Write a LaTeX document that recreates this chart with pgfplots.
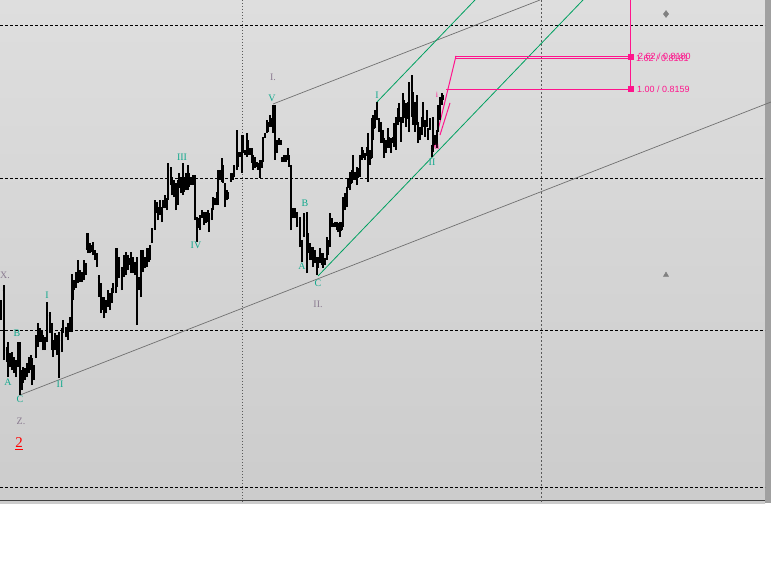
\documentclass[border=0pt]{standalone}
\usepackage{pgfplots}
\pgfplotsset{compat=1.18}
\usepackage{pgfplotstable}
\usepackage{fontspec}
\setmainfont{Liberation Serif}
\newfontfamily\sansf{Liberation Sans}
\definecolor{wgreen}{RGB}{16,168,140}
\definecolor{lgreen}{RGB}{0,160,96}
\definecolor{mag}{RGB}{255,20,140}
\definecolor{gpurp}{RGB}{138,122,144}
\definecolor{tline}{RGB}{112,112,112}
\definecolor{bgtop}{RGB}{222,222,222}
\definecolor{bgbot}{RGB}{204,204,204}
\definecolor{strip}{RGB}{160,160,160}
\definecolor{solidl}{RGB}{64,64,64}
\definecolor{vgrid}{RGB}{90,90,90}
\definecolor{glyph}{RGB}{128,128,128}
\pgfdeclareplotmark{otick}{\pgfpathmoveto{\pgfqpoint{-\pgfplotmarksize}{0pt}}\pgfpathlineto{\pgfqpoint{0pt}{0pt}}\pgfusepathqstroke}
\pgfdeclareplotmark{ctick}{\pgfpathmoveto{\pgfqpoint{0pt}{0pt}}\pgfpathlineto{\pgfqpoint{\pgfplotmarksize}{0pt}}\pgfusepathqstroke}
\pgfplotstableread{
x h l o c
1 300 320 305 315
4 285 360 290 350
7 347 362 350 358
8 342 377 355 370
10 353 367 365 357
12 352 370 358 366
14 357 373 366 360
16 360 377 362 372
18 342 367 362 348
20 342 395 350 385
22 370 390 385 375
23 367 383 375 370
25 368 380 370 377
27 363 377 375 366
29 357 373 366 362
31 355 370 362 358
32 358 385 360 378
34 365 380 378 368
36 335 358 356 340
38 323 347 340 330
40 328 342 330 338
42 330 342 338 333
43 335 350 336 345
45 337 350 345 340
47 302 342 340 310
50 312 333 315 325
52 323 350 325 345
53 340 357 345 350
55 333 350 348 338
57 335 355 338 350
59 332 378 350 340
62 328 352 340 332
63 320 333 332 325
66 327 337 328 333
68 323 340 333 328
70 317 332 328 320
72 274 332 320 285
73 280 300 285 292
74 280 290 288 284
76 272 288 284 276
78 260 283 276 265
80 270 282 272 278
82 272 282 278 275
84 260 280 275 264
86 263 275 264 268
87 233 250 248 238
88 233 253 238 245
90 243 253 245 248
92 245 252 248 247
93 242 255 247 250
95 250 260 251 257
97 253 267 257 265
99 275 297 277 290
101 283 313 290 305
103 297 310 305 300
104 297 318 300 310
106 300 313 310 303
108 290 307 303 295
110 293 310 295 305
112 288 303 300 292
113 283 293 292 287
116 248 293 287 255
117 248 287 255 270
119 257 278 270 262
122 267 290 270 280
124 255 277 275 262
126 252 275 262 258
128 255 270 258 265
129 258 265 264 260
131 252 273 260 255
133 257 273 258 265
135 262 275 265 268
137 257 325 268 262
139 277 290 278 285
141 250 297 285 255
143 250 272 255 265
145 257 268 265 260
147 248 267 260 252
149 248 262 252 256
150 245 260 256 250
152 228 243 242 232
155 200 230 228 205
157 202 213 205 210
158 207 220 210 212
160 200 215 212 205
162 207 222 208 215
163 200 208 207 202
165 195 208 202 200
167 198 210 200 205
168 163 200 198 170
171 167 185 170 180
172 177 195 180 185
174 180 197 185 190
176 183 210 190 200
178 180 205 200 185
179 173 188 185 178
181 177 193 178 185
183 163 195 185 170
184 177 192 178 185
186 173 190 185 178
188 165 190 178 170
189 173 187 175 180
191 177 185 180 182
193 175 185 182 178
195 175 220 178 215
197 217 242 218 235
198 218 228 225 222
200 215 230 222 218
202 210 218 216 213
204 212 225 213 220
206 212 223 220 215
208 210 222 215 212
209 213 232 214 225
212 208 220 218 210
213 197 210 208 200
215 198 205 200 202
217 192 205 202 195
218 170 205 195 175
220 170 180 175 178
222 158 182 178 165
223 165 183 166 180
225 183 207 185 200
227 190 200 198 193
228 192 199 193 196
231 173 182 180 175
233 173 180 175 177
234 165 177 176 168
237 130 170 168 140
238 152 167 155 160
240 152 157 156 154
242 135 173 154 140
243 135 153 140 150
245 150 155 151 153
247 133 157 153 140
248 140 155 142 150
250 148 155 150 152
252 148 163 152 160
253 155 170 160 165
255 157 168 165 160
257 162 167 163 165
258 163 170 165 168
260 160 178 168 165
262 160 168 165 162
263 137 162 160 140
265 133 138 137 135
267 120 133 132 125
268 122 132 125 128
270 115 127 126 118
272 118 127 119 122
273 105 133 122 110
275 105 160 110 150
277 140 153 150 145
279 138 145 144 140
281 140 145 141 143
282 157 162 158 160
284 155 162 160 157
286 155 162 157 160
288 148 160 159 152
289 155 167 156 162
291 165 230 166 225
293 208 218 216 212
295 208 218 212 215
297 212 227 215 222
300 217 247 222 240
302 240 262 242 255
304 213 237 235 220
307 212 273 220 265
308 233 253 250 240
310 243 260 245 255
312 247 260 255 250
313 247 267 250 262
315 250 263 262 255
317 257 275 258 270
318 257 268 268 260
320 248 263 260 252
322 253 265 255 262
323 253 268 262 258
325 258 265 259 263
327 237 260 258 240
328 240 255 242 250
330 213 247 245 218
332 218 227 220 225
333 223 227 224 226
335 222 227 226 223
337 222 230 224 228
338 223 232 228 225
340 222 237 226 232
342 222 230 230 224
343 197 227 224 200
345 193 210 200 205
347 187 207 205 190
348 178 188 186 180
350 172 190 180 185
352 170 183 183 175
353 155 180 175 160
355 172 180 173 178
357 167 185 178 170
358 168 178 170 175
360 155 177 175 158
362 147 160 158 150
363 150 158 151 155
365 153 160 155 157
367 147 155 155 150
368 133 182 150 140
370 150 165 152 160
372 118 158 158 122
373 115 140 122 130
375 110 128 128 115
377 102 120 115 108
379 118 132 120 128
381 122 143 128 140
383 130 143 140 135
384 138 158 140 150
386 140 153 150 145
388 128 148 145 132
389 137 148 140 145
391 138 153 145 150
393 137 143 142 139
394 123 147 140 128
396 117 150 128 145
398 108 125 122 110
399 103 122 110 118
401 117 142 118 138
403 93 123 120 98
404 100 118 102 112
406 103 127 112 120
408 102 118 118 105
409 82 132 105 90
412 75 117 90 110
413 92 125 110 120
415 102 132 120 110
417 95 125 110 120
418 122 143 125 138
420 127 140 138 130
422 117 135 130 120
423 102 127 120 108
425 120 137 122 132
427 110 127 125 115
428 128 140 130 138
430 118 130 128 122
432 145 157 148 153
433 117 152 150 125
435 135 145 137 142
437 130 148 142 135
438 105 132 130 110
440 97 120 110 100
442 93 105 100 96
443 95 100 96 98
}\bars
\begin{document}
\begin{tikzpicture}
\useasboundingbox (0,0) rectangle (771bp,568bp);
\begin{axis}[width=771bp, height=568bp, scale only axis, at={(0,0)}, anchor=south west,
  xmin=0, xmax=771, ymin=0, ymax=568, y dir=reverse, hide axis, clip=true]
% background panel
\shade[top color=bgtop, bottom color=bgbot] (axis cs:0,0) rectangle (axis cs:765,503);
\fill[strip] (axis cs:765,0) rectangle (axis cs:771,503);
% grid
\addplot[black, dash pattern=on 3bp off 2bp, line width=0.9bp, forget plot] coordinates {(0,25) (765,25)};
\addplot[black, dash pattern=on 3bp off 2bp, line width=0.9bp, forget plot] coordinates {(0,178) (765,178)};
\addplot[black, dash pattern=on 3bp off 2bp, line width=0.9bp, forget plot] coordinates {(0,330) (765,330)};
\addplot[black, dash pattern=on 3bp off 2bp, line width=0.9bp, forget plot] coordinates {(0,487) (765,487)};
\addplot[solidl, line width=0.9bp, forget plot] coordinates {(0,500) (765,500)};
\addplot[vgrid, dash pattern=on 1bp off 2bp, line width=0.9bp, forget plot] coordinates {(242,0) (242,503)};
\addplot[vgrid, dash pattern=on 2bp off 2bp, line width=0.9bp, forget plot] coordinates {(541,0) (541,503)};
% trend lines
\addplot[tline, line width=0.7bp, forget plot] coordinates {(20,395) (771,102)};
\addplot[tline, line width=0.7bp, forget plot] coordinates {(273,104) (540,0)};
\addplot[lgreen, line width=0.8bp, forget plot] coordinates {(318,276) (583,0)};
\addplot[lgreen, line width=0.8bp, forget plot] coordinates {(377,102) (475,0)};
% magenta fib
\addplot[mag, line width=1bp, forget plot] coordinates {(432,155) (456,56)};
\addplot[mag, line width=1bp, forget plot] coordinates {(440,135) (450,103)};
\addplot[mag, line width=0.9bp, forget plot] coordinates {(455,56) (630,56)};
\addplot[mag, line width=0.9bp, forget plot] coordinates {(455,58.5) (630,58.5)};
\addplot[mag, line width=0.9bp, forget plot] coordinates {(446,89) (630,89)};
\addplot[mag, line width=1bp, forget plot] coordinates {(630,0) (630,89)};
\addplot[only marks, mark=square*, mark size=2.5bp, mag, forget plot] coordinates {(631,57) (631,89)};
% bars
\addplot[draw=none, mark=none, forget plot, error bars/.cd, y dir=minus, y explicit, error mark=none,
  error bar style={draw=black, line width=1.1bp}]
  table[x=x, y=l, y error minus expr=\thisrow{l}-\thisrow{h}] \bars;
\addplot[only marks, mark=otick, mark size=1.4bp, mark options={draw=black, line width=0.9bp}, forget plot] table[x=x, y=o] \bars;
\addplot[only marks, mark=ctick, mark size=1.4bp, mark options={draw=black, line width=0.9bp}, forget plot] table[x=x, y=c] \bars;
% glyphs
\addplot[only marks, mark=diamond*, mark size=3.5bp, glyph, forget plot] coordinates {(666,14)};
\addplot[only marks, mark=triangle*, mark size=3bp, glyph, forget plot] coordinates {(666,275)};
% labels
\begin{scope}[every node/.style={inner sep=0pt, font=\fontsize{10}{10}\selectfont}]
\node[text=gpurp, anchor=west] at (axis cs:0,275) {X.};
\node[text=wgreen] at (axis cs:8,382) {A};
\node[text=wgreen] at (axis cs:17,333) {B};
\node[text=wgreen] at (axis cs:20,399) {C};
\node[text=gpurp] at (axis cs:21,421) {Z.};
\node[text=red, font=\fontsize{15}{15}\selectfont] at (axis cs:19,444) {\underline{2}};
\node[text=wgreen] at (axis cs:47,295) {I};
\node[text=wgreen] at (axis cs:60,384) {II};
\node[text=wgreen] at (axis cs:182,157) {III};
\node[text=wgreen] at (axis cs:196,245) {IV};
\node[text=wgreen] at (axis cs:272,98) {V};
\node[text=gpurp] at (axis cs:273,77) {I.};
\node[text=wgreen] at (axis cs:302,266) {A};
\node[text=wgreen] at (axis cs:305,203) {B};
\node[text=wgreen] at (axis cs:318,283) {C};
\node[text=gpurp] at (axis cs:318,304) {II.};
\node[text=wgreen] at (axis cs:377,95) {I};
\node[text=wgreen] at (axis cs:432,162) {II};
\node[text=mag, font=\fontsize{8}{8}\selectfont] at (axis cs:437,95) {i};
\node[text=mag, font=\fontsize{8}{8}\selectfont] at (axis cs:437,147) {ii};
\node[text=mag, anchor=west, font=\sansf\fontsize{9}{9}\selectfont] at (axis cs:636,58) {1.62 / 0.8181};
\node[text=mag, anchor=west, font=\sansf\fontsize{9}{9}\selectfont] at (axis cs:638,56.5) {2.62 / 0.8180};
\node[text=mag, anchor=west, font=\sansf\fontsize{9}{9}\selectfont] at (axis cs:637,89) {1.00 / 0.8159};
\end{scope}
\end{axis}
\end{tikzpicture}
\end{document}
